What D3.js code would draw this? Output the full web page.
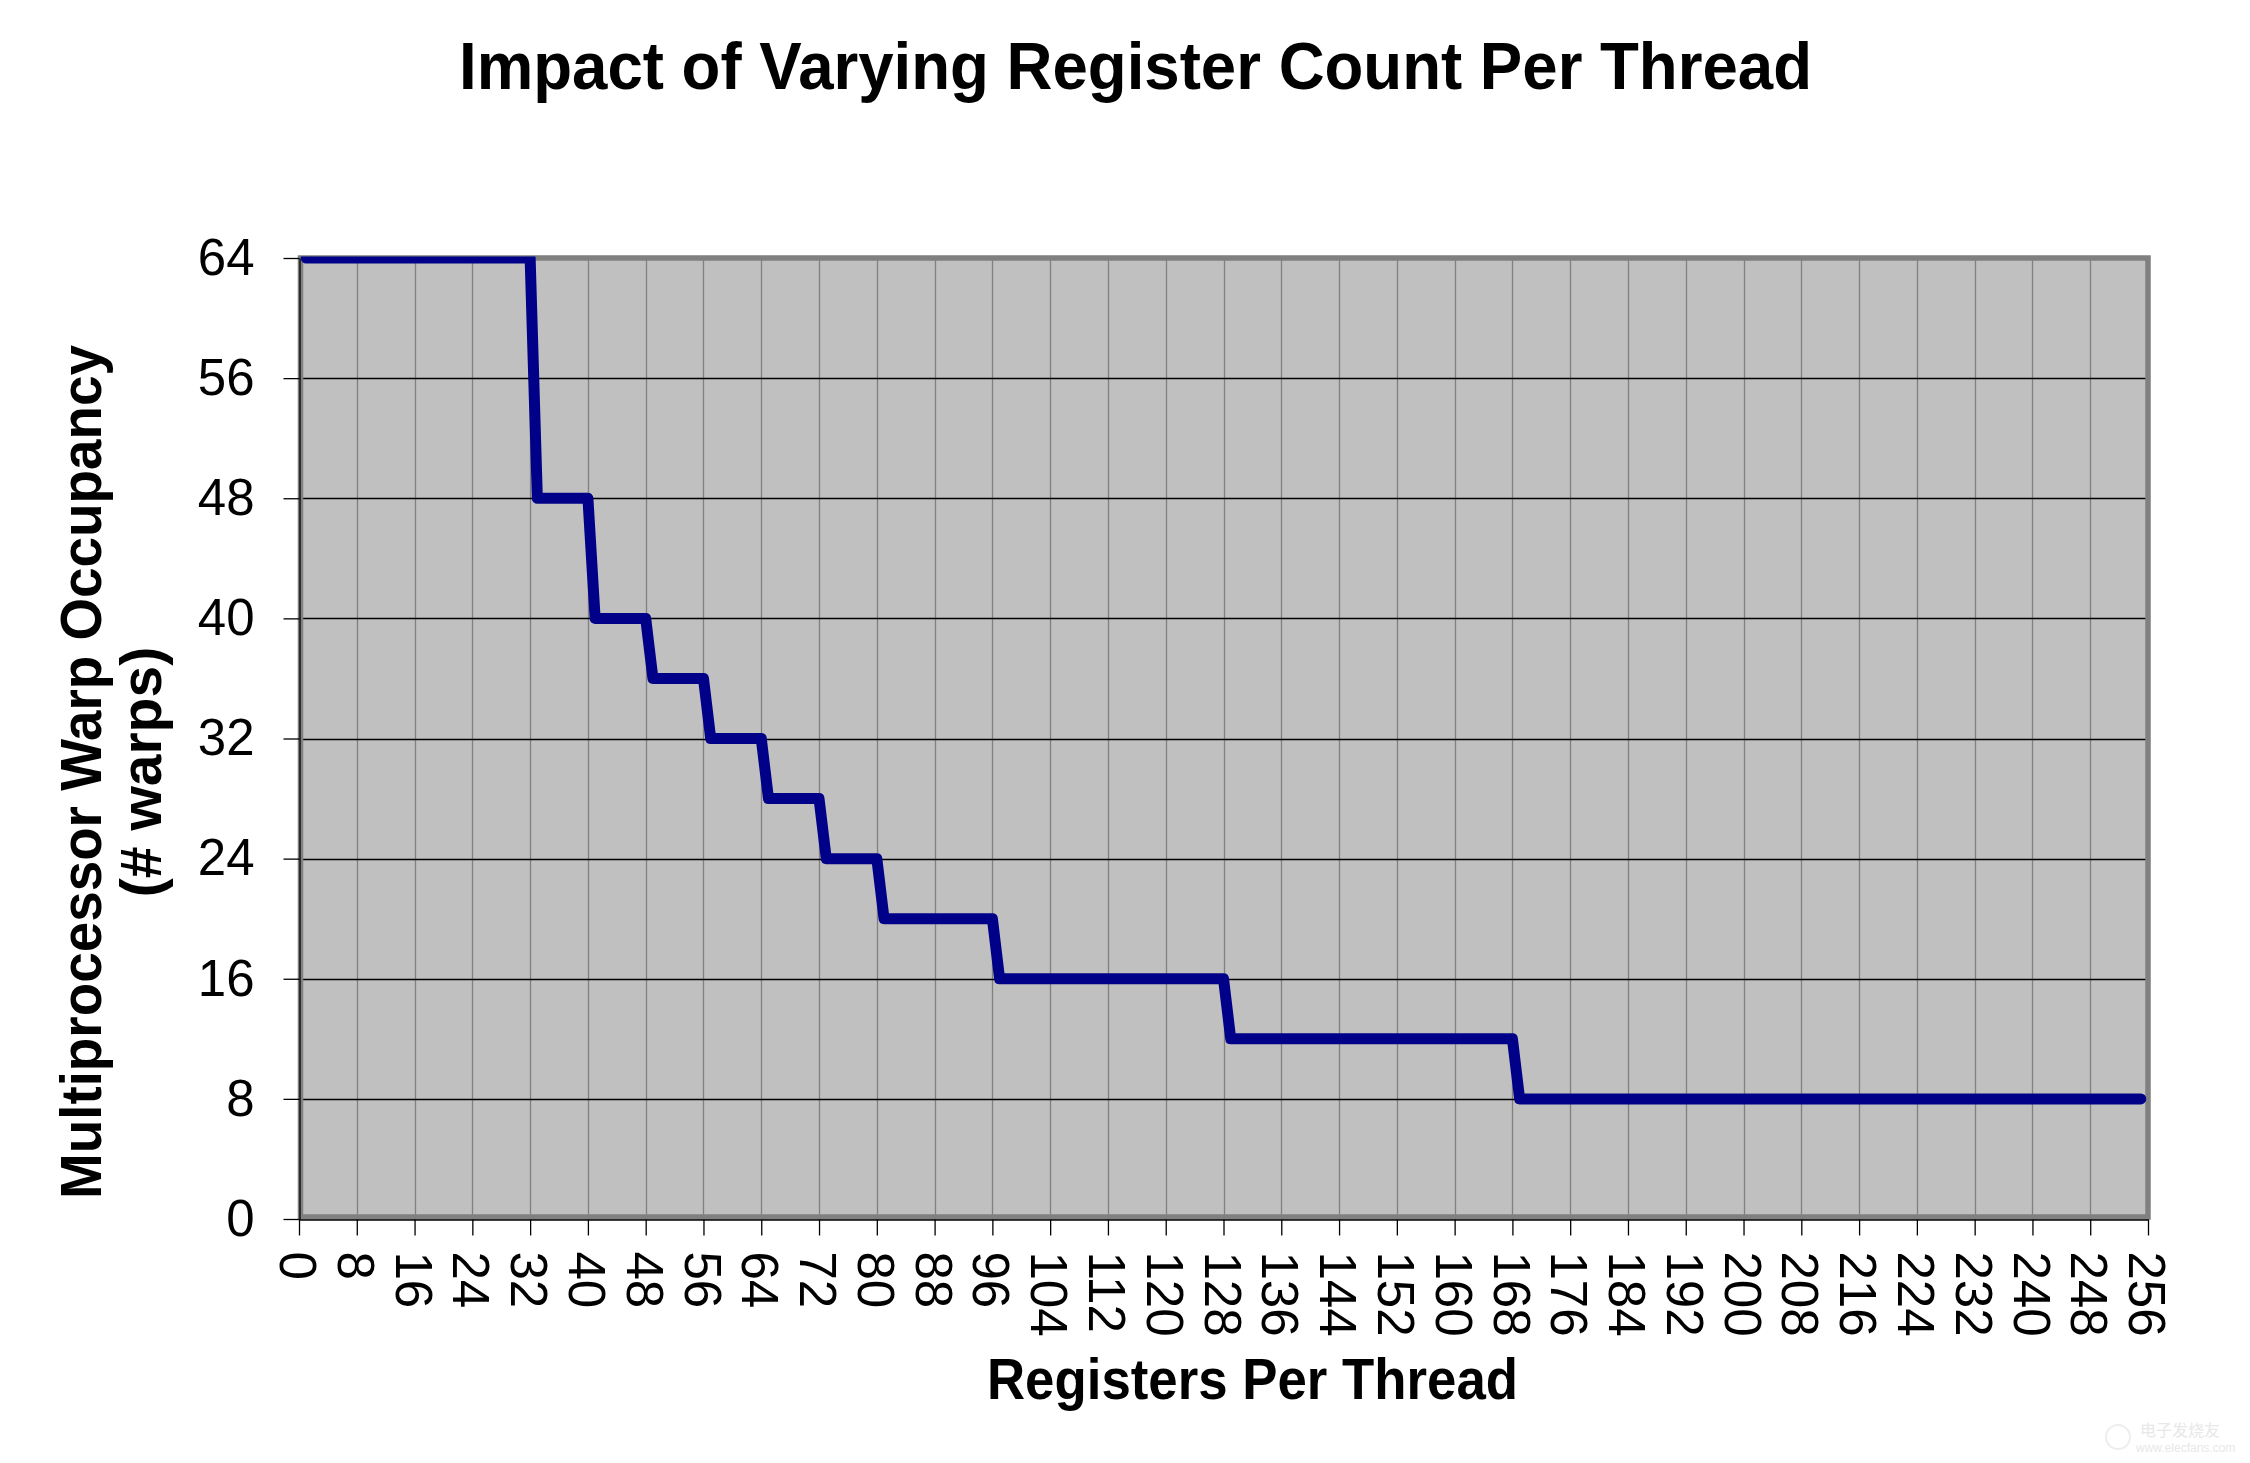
<!DOCTYPE html>
<html>
<head>
<meta charset="utf-8">
<script src="https://cdn.jsdelivr.net/npm/d3@7/dist/d3.min.js"></script>
<style>
  html, body { margin: 0; padding: 0; background: #ffffff; }
  svg { display: block; }
  text { font-family: "Liberation Sans", Arial, sans-serif; fill: #000; }
</style>
</head>
<body>
<svg id="chart" width="2250" height="1463"></svg>
<script>
// ---- data ----
const chartTitle = "Impact of Varying Register Count Per Thread";
const xTitle = "Registers Per Thread";
const yTitleLines = ["Multiprocessor Warp Occupancy", "(# warps)"];
// registers per thread where the occupancy changes (step corners)
const registers = [1, 32, 33, 40, 41, 48, 49, 56, 57, 64, 65, 72, 73, 80, 81, 96, 97, 128, 129, 168, 169, 255];
const warps     = [64, 64, 48, 48, 40, 40, 36, 36, 32, 32, 28, 28, 24, 24, 20, 20, 16, 16, 12, 12, 8, 8];
const xTickValues = [0, 8, 16, 24, 32, 40, 48, 56, 64, 72, 80, 88, 96, 104, 112, 120, 128, 136, 144, 152, 160, 168, 176, 184, 192, 200, 208, 216, 224, 232, 240, 248, 256];
const yTickValues = [0, 8, 16, 24, 32, 40, 48, 56, 64];

// ---- layout ----
const svg = d3.select("#chart");
const L = 299, R = 2148, T = 258, B = 1219;

const x = d3.scaleLinear().domain([0, 256]).range([L, R]);
const y = d3.scaleLinear().domain([0, 64]).range([B, T]);

// plot background
svg.append("rect")
  .attr("x", L).attr("y", T).attr("width", R - L).attr("height", B - T)
  .attr("fill", "#C0C0C0");

// vertical gridlines (gray)
svg.append("g").selectAll("line").data(xTickValues.filter(d => d > 0 && d < 256)).join("line")
  .attr("x1", d => Math.round(x(d)) + 0.5).attr("x2", d => Math.round(x(d)) + 0.5)
  .attr("y1", T).attr("y2", B)
  .attr("stroke", "#808080").attr("stroke-width", 1.3);

// horizontal gridlines (black)
svg.append("g").selectAll("line").data(yTickValues.filter(d => d > 0 && d < 64)).join("line")
  .attr("x1", L).attr("x2", R)
  .attr("y1", d => Math.round(y(d)) + 0.5).attr("y2", d => Math.round(y(d)) + 0.5)
  .attr("stroke", "#000").attr("stroke-width", 1.3);

// plot border (gray, thick)
svg.append("rect")
  .attr("x", L + 1.5).attr("y", T).attr("width", R - L - 1.5).attr("height", B - 2 - T)
  .attr("fill", "none").attr("stroke", "#808080").attr("stroke-width", 5.5);

// axes
const yAxis = d3.axisLeft(y).tickValues(yTickValues).tickSize(16).tickSizeOuter(0).tickPadding(29);
const gy = svg.append("g").attr("transform", `translate(${L + 0.5},0)`).call(yAxis);
gy.selectAll("path.domain").attr("stroke", "#000").attr("stroke-width", 1.3);
gy.selectAll(".tick line").attr("stroke", "#000").attr("stroke-width", 1.3);
gy.selectAll(".tick text")
  .style("font-family", "'Liberation Sans', Arial, sans-serif")
  .style("font-size", "51px").attr("fill", "#000").attr("dy", "0.32em");

const xAxis = d3.axisBottom(x).tickValues(xTickValues).tickSize(16).tickSizeOuter(0);
const gx = svg.append("g").attr("transform", `translate(0,${B + 0.5})`).call(xAxis);
gx.selectAll("path.domain").attr("stroke", "#000").attr("stroke-width", 1.3);
gx.selectAll(".tick line").attr("stroke", "#000").attr("stroke-width", 1.3);
gx.selectAll(".tick text")
  .style("font-family", "'Liberation Sans', Arial, sans-serif")
  .style("font-size", "51px").attr("fill", "#000")
  .attr("x", 0).attr("y", 0).attr("dy", "0.38em")
  .attr("text-anchor", "start")
  .attr("transform", "translate(0,32) rotate(90)");

// clip for the data line
svg.append("clipPath").attr("id", "plotclip")
  .append("rect").attr("x", L).attr("y", T - 1.5).attr("width", R - L).attr("height", B - T + 1.5);

const pts = registers.map((r, i) => [r, warps[i]]);
const line = d3.line().x(d => x(d[0])).y(d => y(d[1]));
svg.append("path")
  .attr("d", line(pts))
  .attr("clip-path", "url(#plotclip)")
  .attr("fill", "none")
  .attr("stroke", "#000088")
  .attr("stroke-width", 11)
  .attr("stroke-linejoin", "round")
  .attr("stroke-linecap", "round");

// titles
svg.append("text")
  .attr("x", 459).attr("y", 89)
  .attr("textLength", 1353).attr("lengthAdjust", "spacingAndGlyphs")
  .style("font-size", "67px").style("font-weight", "bold")
  .text(chartTitle);

svg.append("text")
  .attr("x", 987).attr("y", 1399)
  .attr("textLength", 531).attr("lengthAdjust", "spacingAndGlyphs")
  .style("font-size", "57px").style("font-weight", "bold")
  .text(xTitle);

const yt = svg.append("g").attr("transform", "translate(0,772) rotate(-90)");
yt.append("text")
  .attr("x", 0).attr("y", 101).attr("text-anchor", "middle")
  .attr("textLength", 854).attr("lengthAdjust", "spacingAndGlyphs")
  .style("font-size", "57px").style("font-weight", "bold")
  .text(yTitleLines[0]);
yt.append("text")
  .attr("x", 0).attr("y", 161).attr("text-anchor", "middle")
  .style("font-size", "57px").style("font-weight", "bold")
  .text(yTitleLines[1]);

// faint watermark
svg.append("circle").attr("cx", 2118).attr("cy", 1437).attr("r", 12)
  .attr("fill", "none").attr("stroke", "#eeeeee").attr("stroke-width", 2);
svg.append("text").attr("x", 2140).attr("y", 1436)
  .style("font-family", "'Noto Sans CJK SC', sans-serif").style("font-size", "16px")
  .style("fill", "#e8e8e8").text("电子发烧友");
svg.append("text").attr("x", 2136).attr("y", 1452)
  .style("font-size", "12px").style("fill", "#e8e8e8").text("www.elecfans.com");
</script>
</body>
</html>
